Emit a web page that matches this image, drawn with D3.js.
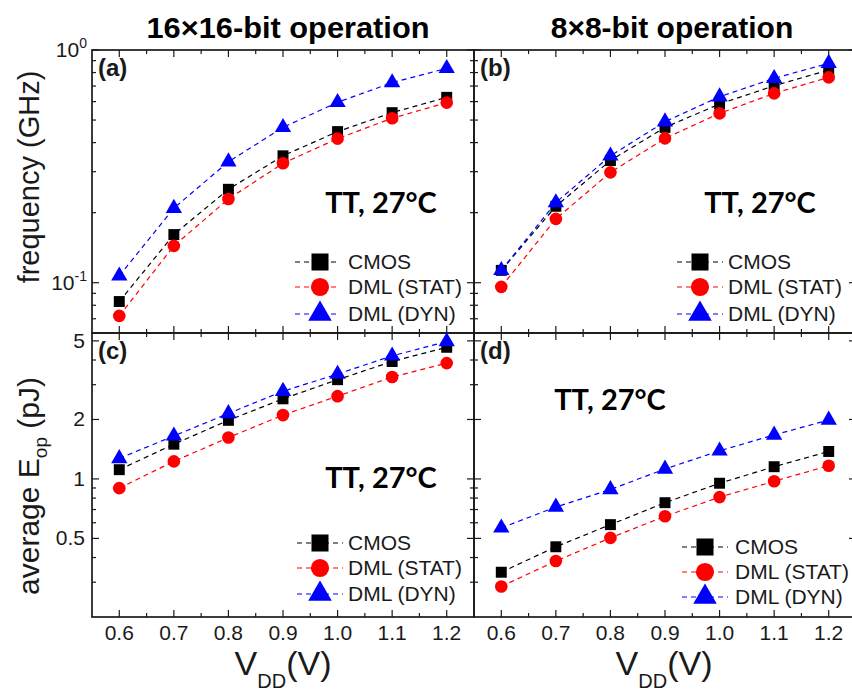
<!DOCTYPE html>
<html>
<head>
<meta charset="utf-8">
<script src="https://cdn.jsdelivr.net/npm/d3@7"></script>
<style>
  body { margin: 0; background: #fff; }
  svg { display: block; }
</style>
</head>
<body>
<div id="chart"></div>
<script>
// data
const vdd = [0.6, 0.7, 0.8, 0.9, 1.0, 1.1, 1.2];

const freq16CMOS = [0.083, 0.161, 0.252, 0.351, 0.446, 0.538, 0.626];
const freq16STAT = [0.072, 0.144, 0.229, 0.326, 0.416, 0.509, 0.594];
const freq16DYN = [0.107, 0.209, 0.331, 0.465, 0.596, 0.724, 0.834];

const freq8CMOS = [0.113, 0.213, 0.335, 0.465, 0.586, 0.702, 0.82];
const freq8STAT = [0.096, 0.188, 0.298, 0.417, 0.534, 0.651, 0.763];
const freq8DYN = [0.113, 0.221, 0.351, 0.492, 0.63, 0.755, 0.877];

const energy16CMOS = [1.114, 1.499, 1.98, 2.544, 3.18, 3.93, 4.64];
const energy16STAT = [0.898, 1.227, 1.62, 2.105, 2.624, 3.28, 3.858];
const energy16DYN = [1.27, 1.651, 2.146, 2.779, 3.396, 4.2, 4.956];

const energy8CMOS = [0.337, 0.4535, 0.587, 0.758, 0.951, 1.153, 1.377];
const energy8STAT = [0.2855, 0.384, 0.503, 0.647, 0.809, 0.973, 1.167];
const energy8DYN = [0.565, 0.721, 0.884, 1.123, 1.388, 1.67, 1.987];

const seriesNames = ["CMOS", "DML (STAT)", "DML (DYN)"];
const seriesColors = ["#000000", "#ff0000", "#0000ff"];

// ticks
const xMajor = [0.6, 0.7, 0.8, 0.9, 1.0, 1.1, 1.2];
const xMinor = [0.65, 0.75, 0.85, 0.95, 1.05, 1.15];
const freqMajor = [0.1, 1];
const freqMinor = [0.07, 0.08, 0.09, 0.2, 0.3, 0.4, 0.5, 0.6, 0.7, 0.8, 0.9];
const energyMajor = [0.5, 1, 2, 5];
const energyMinor = [0.3, 0.4, 0.6, 0.7, 0.8, 0.9, 3, 4];

const width = 852;
const height = 691;
const font = "'Liberation Sans', Arial, sans-serif";

const symbols = [d3.symbolSquare, d3.symbolCircle, d3.symbolTriangle];
const markSize = [120, 125, 115];
const legendSize = [290, 260, 240];

const panels = [
  { x0: 92, x1: 474, y0: 50, y1: 333, kind: "freq", tag: "(a)",
    data: [freq16CMOS, freq16STAT, freq16DYN],
    tt: [381, 213], leg: { l: 295, r: 338, m: 320, t: 348, rows: [262, 287, 314] },
    yLabels: true, xLabels: false },
  { x0: 474, x1: 856, y0: 50, y1: 333, kind: "freq", tag: "(b)",
    data: [freq8CMOS, freq8STAT, freq8DYN],
    tt: [760, 213], leg: { l: 677, r: 723, m: 700, t: 728, rows: [262, 287, 314] },
    yLabels: false, xLabels: false },
  { x0: 92, x1: 474, y0: 333, y1: 617, kind: "energy", tag: "(c)",
    data: [energy16CMOS, energy16STAT, energy16DYN],
    tt: [381, 488], leg: { l: 297, r: 343, m: 320, t: 348, rows: [543, 568, 594] },
    yLabels: true, xLabels: true },
  { x0: 474, x1: 856, y0: 333, y1: 617, kind: "energy", tag: "(d)",
    data: [energy8CMOS, energy8STAT, energy8DYN],
    tt: [610, 410], leg: { l: 682, r: 728, m: 705, t: 735, rows: [547, 572, 597] },
    yLabels: false, xLabels: true },
];

const svg = d3.select("#chart").append("svg")
  .attr("width", width).attr("height", height);

panels.forEach(drawPanel);

function drawPanel(p) {
  const x = d3.scaleLinear().domain([0.55, 1.25]).range([p.x0, p.x1]);
  const y = p.kind == "freq"
    ? d3.scaleLog().domain([0.0608, 1]).range([p.y1, p.y0])
    : d3.scaleLog().domain([0.2, 5.48]).range([p.y1, p.y0]);
  const yMajor = p.kind == "freq" ? freqMajor : energyMajor;
  const yMinor = p.kind == "freq" ? freqMinor : energyMinor;

  const g = svg.append("g");

  // frame
  g.append("rect")
    .attr("x", p.x0).attr("y", p.y0)
    .attr("width", p.x1 - p.x0).attr("height", p.y1 - p.y0)
    .attr("fill", "none").attr("stroke", "#1a1a1a").attr("stroke-width", 1.7);

  // inward ticks on all four sides
  const tk = g.append("g").attr("stroke", "#1a1a1a").attr("stroke-width", 1.2);
  [[xMajor, 7], [xMinor, 4]].forEach(([vals, len]) => {
    vals.forEach((v) => {
      tk.append("line").attr("x1", x(v)).attr("x2", x(v)).attr("y1", p.y1).attr("y2", p.y1 - len);
      tk.append("line").attr("x1", x(v)).attr("x2", x(v)).attr("y1", p.y0).attr("y2", p.y0 + len);
    });
  });
  [[yMajor, 7], [yMinor, 4]].forEach(([vals, len]) => {
    vals.forEach((v) => {
      tk.append("line").attr("y1", y(v)).attr("y2", y(v)).attr("x1", p.x0).attr("x2", p.x0 + len);
      tk.append("line").attr("y1", y(v)).attr("y2", y(v)).attr("x1", p.x1).attr("x2", p.x1 - len);
    });
  });

  // tick labels
  if (p.xLabels) {
    g.selectAll(".xl").data(xMajor).join("text")
      .attr("x", (d) => x(d)).attr("y", p.y1 + 23)
      .attr("text-anchor", "middle")
      .attr("font-family", font).attr("font-size", 21).attr("fill", "#1a1a1a")
      .text((d) => d.toFixed(1));
  }
  if (p.yLabels) {
    if (p.kind == "freq") {
      const t = g.selectAll(".yl").data(yMajor).join("text")
        .attr("x", p.x0 - 5).attr("y", (d) => y(d) + 7)
        .attr("text-anchor", "end")
        .attr("font-family", font).attr("font-size", 21).attr("fill", "#1a1a1a");
      t.append("tspan").text("10");
      t.append("tspan").attr("dy", -9).attr("font-size", 14)
        .text((d) => Math.round(Math.log10(d)));
    } else {
      g.selectAll(".yl").data(yMajor).join("text")
        .attr("x", p.x0 - 7).attr("y", (d) => y(d) + 7)
        .attr("text-anchor", "end")
        .attr("font-family", font).attr("font-size", 21).attr("fill", "#1a1a1a")
        .text((d) => d);
    }
  }

  // series: dashed line then markers
  p.data.forEach((vals, i) => {
    const pts = vals.map((v, j) => [vdd[j], v]);
    g.append("path")
      .datum(pts)
      .attr("fill", "none")
      .attr("stroke", seriesColors[i])
      .attr("stroke-width", 1.2)
      .attr("stroke-dasharray", "5,4")
      .attr("d", d3.line().x((d) => x(d[0])).y((d) => y(d[1])));
    g.selectAll(".m" + i).data(pts).join("path")
      .attr("transform", (d) => `translate(${x(d[0])},${y(d[1])})`)
      .attr("d", d3.symbol().type(symbols[i]).size(markSize[i]))
      .attr("fill", seriesColors[i]);
  });

  // legend
  seriesNames.forEach((name, i) => {
    const ry = p.leg.rows[i];
    g.append("line")
      .attr("x1", p.leg.l).attr("x2", p.leg.r).attr("y1", ry).attr("y2", ry)
      .attr("stroke", seriesColors[i]).attr("stroke-width", 1.2)
      .attr("stroke-dasharray", "5,4");
    g.append("path")
      .attr("transform", `translate(${p.leg.m},${ry})`)
      .attr("d", d3.symbol().type(symbols[i]).size(legendSize[i]))
      .attr("fill", seriesColors[i]);
    g.append("text")
      .attr("x", p.leg.t).attr("y", ry + 7)
      .attr("font-family", font).attr("font-size", 21).attr("fill", "#1a1a1a")
      .text(name);
  });

  // panel tag and condition label
  g.append("text")
    .attr("x", p.x0 + 6).attr("y", p.y0 + 26)
    .attr("font-family", font).attr("font-size", 24).attr("font-weight", "bold")
    .attr("fill", "#1a1a1a")
    .text(p.tag);
  g.append("text")
    .attr("x", p.tt[0]).attr("y", p.tt[1])
    .attr("text-anchor", "middle")
    .attr("font-family", "Lato, 'Open Sans', sans-serif").attr("font-size", 29)
    .attr("font-weight", "bold").attr("fill", "#000")
    .text("TT, 27°C");
}

// column titles
svg.append("text")
  .attr("x", 288).attr("y", 38).attr("text-anchor", "middle")
  .attr("font-family", font).attr("font-size", 30).attr("font-weight", "bold")
  .attr("textLength", 283).attr("lengthAdjust", "spacingAndGlyphs")
  .text("16×16-bit operation");
svg.append("text")
  .attr("x", 672).attr("y", 38).attr("text-anchor", "middle")
  .attr("font-family", font).attr("font-size", 30).attr("font-weight", "bold")
  .text("8×8-bit operation");

// y axis titles
svg.append("text")
  .attr("transform", "translate(39,177) rotate(-90)")
  .attr("text-anchor", "middle")
  .attr("font-family", font).attr("font-size", 29).attr("fill", "#1a1a1a")
  .text("frequency (GHz)");
const eTitle = svg.append("text")
  .attr("transform", "translate(39,486) rotate(-90)")
  .attr("text-anchor", "middle")
  .attr("font-family", font).attr("font-size", 30).attr("fill", "#1a1a1a");
eTitle.append("tspan").text("average E");
eTitle.append("tspan").attr("font-size", 19).attr("dy", 8).text("op");
eTitle.append("tspan").attr("dy", -8).text(" (pJ)");

// x axis titles
[283, 664].forEach((cx) => {
  const t = svg.append("text")
    .attr("x", cx).attr("y", 675).attr("text-anchor", "middle")
    .attr("font-family", font).attr("font-size", 34).attr("fill", "#1a1a1a");
  t.append("tspan").text("V");
  t.append("tspan").attr("font-size", 20).attr("dy", 13).text("DD");
  t.append("tspan").attr("dy", -13).text("(V)");
});
</script>
</body>
</html>
